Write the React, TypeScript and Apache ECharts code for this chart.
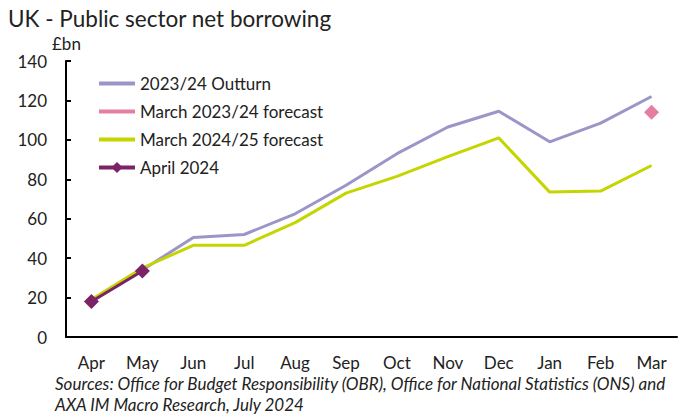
import React, { useEffect, useRef } from "react";
import * as echarts from "echarts";

const months = ["Apr", "May", "Jun", "Jul", "Aug", "Sep", "Oct", "Nov", "Dec", "Jan", "Feb", "Mar"];
const outturn2324 = [18, 34, 50.5, 52, 62.5, 77, 93, 106.5, 114.5, 99, 108.5, 122];
const march2324Forecast = [null, null, null, null, null, null, null, null, null, null, null, 114];
const march2425Forecast = [19, 35, 46.5, 46.5, 58, 73, 81.5, 91.5, 101, 73.5, 74, 87];
const april2024 = [18, 33.5, null, null, null, null, null, null, null, null, null, null];

const FONT = "Lato, 'Open Sans', sans-serif";

export default function App() {
  const ref = useRef<HTMLDivElement>(null);
  useEffect(() => {
    document.body.style.margin = "0";
    if (!ref.current) return;
    const chart = echarts.init(ref.current, null, { renderer: "svg" });
    chart.setOption({
      animation: false,
      textStyle: { fontFamily: FONT },
      title: {
        text: "UK - Public sector net borrowing",
        left: 3,
        top: 2,
        textStyle: { fontFamily: FONT, fontSize: 22.5, fontWeight: "normal", color: "#222" },
      },
      grid: { left: 66, right: 11, top: 61, bottom: 79 },
      legend: {
        orient: "vertical",
        left: 92,
        top: 70,
        itemWidth: 36,
        itemHeight: 14,
        itemGap: 11,
        textStyle: { fontFamily: FONT, fontSize: 17, color: "#222" },
        data: [
          { name: "2023/24 Outturn", itemStyle: { opacity: 0 }, lineStyle: { width: 4 } },
          { name: "March 2023/24 forecast", itemStyle: { opacity: 0 }, lineStyle: { width: 4 } },
          { name: "March 2024/25 forecast", itemStyle: { opacity: 0 }, lineStyle: { width: 4 } },
          { name: "April 2024", lineStyle: { width: 4 } },
        ],
      },
      xAxis: {
        type: "category",
        data: months,
        boundaryGap: true,
        axisLine: { lineStyle: { color: "#000", width: 2 } },
        axisTick: { inside: true, length: 5, lineStyle: { color: "#000", width: 2 } },
        axisLabel: { fontFamily: FONT, fontSize: 17, color: "#222", margin: 17 },
      },
      yAxis: {
        type: "value",
        min: 0,
        max: 140,
        interval: 20,
        splitLine: { show: false },
        axisLine: { show: true, lineStyle: { color: "#000", width: 2 } },
        axisTick: { show: true, inside: true, length: 5, lineStyle: { color: "#000", width: 2 } },
        axisLabel: { fontFamily: FONT, fontSize: 17, color: "#222", margin: 19 },
      },
      graphic: [
        {
          type: "text",
          left: 52,
          top: 35,
          style: { text: "£bn", fontFamily: FONT, fontSize: 17, fill: "#222" },
        },
        {
          type: "text",
          left: 55,
          top: 373,
          style: {
            text:
              "Sources: Office for Budget Responsibility (OBR), Office for National Statistics (ONS) and\nAXA IM Macro Research, July 2024",
            fontFamily: FONT,
            fontSize: 17,
            fontStyle: "italic",
            lineHeight: 21,
            fill: "#222",
          },
        },
      ],
      series: [
        {
          name: "2023/24 Outturn",
          type: "line",
          data: outturn2324,
          symbol: "none",
          lineStyle: { color: "#9c95c7", width: 3 },
          itemStyle: { color: "#9c95c7" },
          z: 2,
        },
        {
          name: "March 2023/24 forecast",
          type: "line",
          symbol: "none",
          data: march2324Forecast.map((v) =>
            v === null ? null : { value: v, symbol: "diamond", symbolSize: 15 }
          ),
          lineStyle: { color: "#e57fa2", width: 3 },
          itemStyle: { color: "#e57fa2" },
          z: 3,
        },
        {
          name: "March 2024/25 forecast",
          type: "line",
          data: march2425Forecast,
          symbol: "none",
          lineStyle: { color: "#c4d500", width: 3 },
          itemStyle: { color: "#c4d500" },
          z: 3,
        },
        {
          name: "April 2024",
          type: "line",
          data: april2024,
          symbol: "diamond",
          symbolSize: 15,
          lineStyle: { color: "#7c2368", width: 3 },
          itemStyle: { color: "#7c2368" },
          z: 4,
        },
      ],
    });
    return () => chart.dispose();
  }, []);
  return <div ref={ref} style={{ width: 688, height: 416 }} />;
}
